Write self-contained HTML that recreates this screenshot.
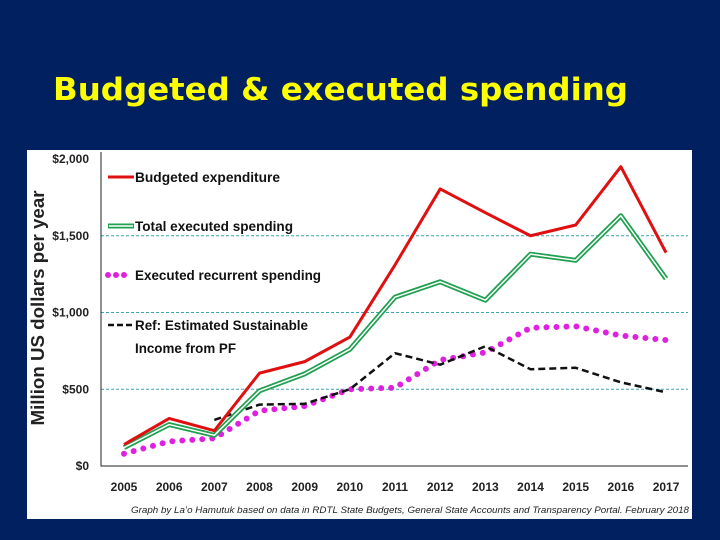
<!DOCTYPE html>
<html><head><meta charset="utf-8"><style>
body{margin:0;width:720px;height:540px;background:#002060;overflow:hidden;font-family:"Liberation Sans",sans-serif}
svg{position:absolute;left:0;top:0}
</style></head><body>
<svg id="chart" width="720" height="540">
<text x="53" y="100" font-family="DejaVu Sans, sans-serif" font-weight="bold" font-size="31" fill="#ffff00" textLength="575" lengthAdjust="spacingAndGlyphs">Budgeted &amp; executed spending</text>
</svg>
<script>
const years=['2005','2006','2007','2008','2009','2010','2011','2012','2013','2014','2015','2016','2017'];
const budgeted=[140,310,230,605,680,840,1310,1805,1650,1500,1570,1950,1390];
const executed=[120,270,200,490,600,760,1100,1200,1080,1380,1340,1630,1220];
const recurrent=[80,160,180,360,390,500,510,690,740,900,910,850,820];
const sustainable=[null,null,300,400,405,500,735,660,780,630,640,545,480];
const yTicks=[0,500,1000,1500,2000];
const yTickLabels=['$0','$500','$1,000','$1,500','$2,000'];
const NS='http://www.w3.org/2000/svg';
const svg=document.getElementById('chart');
const X=i=>124+i*45.17;
const Y=v=>466-v*(307/2000);
function mk(t,a,p){const e=document.createElementNS(NS,t);for(const k in a)e.setAttribute(k,a[k]);(p||svg).appendChild(e);return e;}
const bg=mk('rect',{x:27,y:150,width:665,height:369,fill:'#fff'});


yTicks.forEach((v,i)=>{
 if(v>0&&v<2000){const g=mk('line',{x1:101,x2:688,y1:Y(v),y2:Y(v),stroke:'#3aa6b6','stroke-width':1,'stroke-dasharray':'3,2'});
 
 }
 const t=mk('text',{x:89,y:Y(v)+4,'text-anchor':'end','font-size':12,'font-weight':'bold',fill:'#222'});
 t.textContent=yTickLabels[i];
 
 
});
years.forEach((y,i)=>{const t=mk('text',{x:X(i),y:491,'text-anchor':'middle','font-size':12,'font-weight':'bold',fill:'#222'});
 t.textContent=y;
 
 });
const ax=mk('path',{d:'M101,152 V466 H688',fill:'none',stroke:'#222','stroke-width':1});


function pts(arr){return arr.map((v,i)=>v==null?null:X(i)+','+Y(v)).filter(p=>p).join(' ');}
function line(arr,attrs,name){const p=mk('polyline',Object.assign({points:pts(arr),fill:'none','stroke-linejoin':'round'},attrs));
 
 return p;}
line(recurrent,{stroke:'#e020e0','stroke-width':6,'stroke-dasharray':'0,10','stroke-linecap':'round'},'recurrent-line');
line(sustainable,{stroke:'#111','stroke-width':2.5,'stroke-dasharray':'7,4'},'sustainable-line');
line(executed,{stroke:'#20a050','stroke-width':5},'executed-line');
line(executed,{stroke:'#fff','stroke-width':1.5},'executed-line-inner');
line(budgeted,{stroke:'#e01010','stroke-width':3},'budgeted-line');
function leg(y,draw,label,w,name){const g=mk('g',{});draw(g,y);
 const t=mk('text',{x:135,y:y+5,'font-size':14,fill:'#111','font-weight':'bold',textLength:w,lengthAdjust:'spacingAndGlyphs'},g);t.textContent=label;return g;}
leg(177,(g,y)=>mk('line',{x1:108,x2:134,y1:y,y2:y,stroke:'#e01010','stroke-width':3},g),'Budgeted expenditure',145,'legend-budgeted');
leg(226,(g,y)=>{mk('line',{x1:108,x2:134,y1:y,y2:y,stroke:'#20a050','stroke-width':5},g);mk('line',{x1:109,x2:133,y1:y,y2:y,stroke:'#fff','stroke-width':1.5},g);},'Total executed spending',158,'legend-executed');
leg(275,(g,y)=>mk('line',{x1:108,x2:132,y1:y,y2:y,stroke:'#e020e0','stroke-width':6,'stroke-dasharray':'0,8','stroke-linecap':'round'},g),'Executed recurrent spending',186,'legend-recurrent');
leg(325,(g,y)=>mk('line',{x1:108,x2:133,y1:y,y2:y,stroke:'#111','stroke-width':2.5,'stroke-dasharray':'6,3'},g),'Ref: Estimated Sustainable',173,'legend-sustainable');
const t2=mk('text',{x:135,y:353,'font-size':14,fill:'#111','font-weight':'bold',textLength:101,lengthAdjust:'spacingAndGlyphs'});t2.textContent='Income from PF';


const yt=mk('text',{x:0,y:0,transform:'translate(44,308) rotate(-90)','text-anchor':'middle','font-size':18,'font-weight':'bold',fill:'#222',textLength:235,lengthAdjust:'spacingAndGlyphs'});
yt.textContent='Million US dollars per year';


const ft=mk('text',{x:689,y:513,'text-anchor':'end','font-size':9,'font-style':'italic',fill:'#222',textLength:558,lengthAdjust:'spacingAndGlyphs'});
ft.textContent='Graph by La\u2019o Hamutuk based on data in RDTL State Budgets, General State Accounts and Transparency Portal. February 2018';


</script>
</body></html>
